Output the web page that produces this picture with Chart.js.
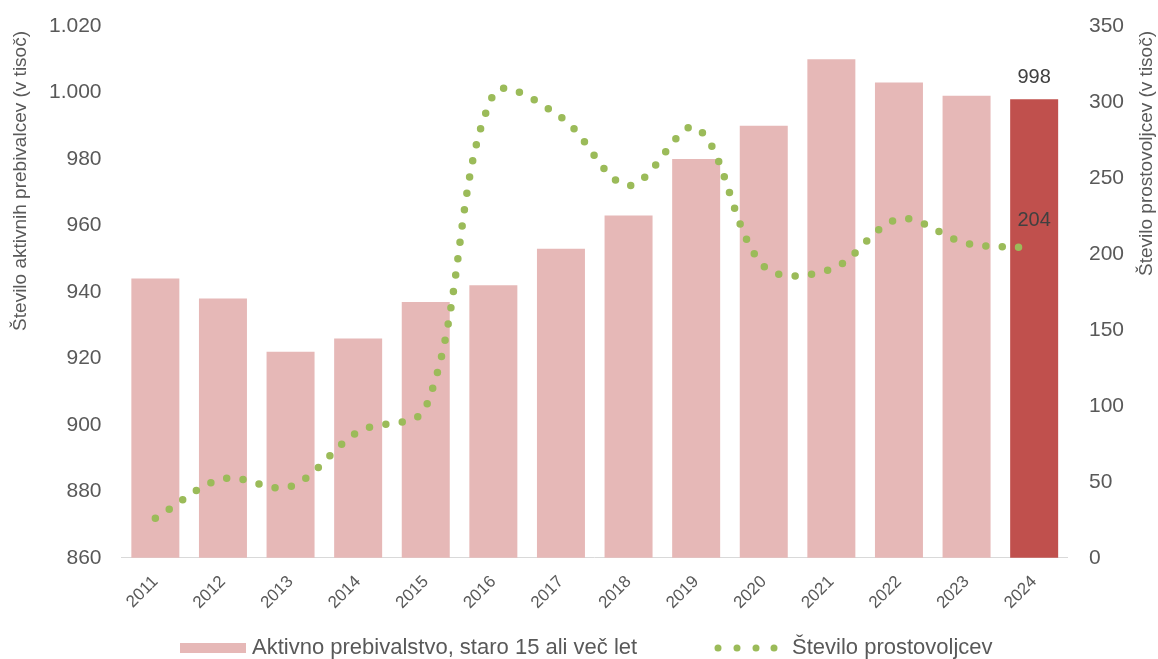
<!DOCTYPE html>
<html>
<head>
<meta charset="utf-8">
<script src="https://cdn.jsdelivr.net/npm/chart.js@4.4.1/dist/chart.umd.min.js"></script>
<style>
  html, body { margin: 0; padding: 0; background: #fff; }
  #wrap { width: 1158px; height: 659px; position: relative; }
</style>
</head>
<body>
<div id="wrap"><canvas id="chart"></canvas></div>
<script>
const years = ['2011', '2012', '2013', '2014', '2015', '2016', '2017', '2018', '2019', '2020', '2021', '2022', '2023', '2024'];
const activePop = [944, 938, 922, 926, 937, 942, 953, 963, 980, 990, 1010, 1003, 999, 998];
const volunteers = [26, 52, 47, 83, 99, 305, 290, 245, 283, 192, 190, 223, 207, 204];
const barLabel = 'Aktivno prebivalstvo, staro 15 ali več let';
const lineLabel = 'Število prostovoljcev';
const leftTitle = 'Število aktivnih prebivalcev (v tisoč)';
const rightTitle = 'Število prostovoljcev (v tisoč)';

const textColor = '#595959';
const pink = '#e6b8b7';
const darkRed = '#c0504d';
const green = '#9bbb59';
const font = 'Liberation Sans, Arial, sans-serif';

function fmt(v) {
  if (v >= 1000) return Math.floor(v / 1000) + '.' + String(v % 1000).padStart(3, '0');
  return String(v);
}

// value labels for the last bar and the last point
const valueLabels = {
  id: 'valueLabels',
  afterDatasetsDraw(chart) {
    const ctx = chart.ctx;
    ctx.save();
    ctx.font = '20px ' + font;
    ctx.fillStyle = '#404040';
    ctx.textAlign = 'center';
    ctx.textBaseline = 'middle';
    const last = years.length - 1;
    const bar = chart.getDatasetMeta(0).data[last];
    ctx.fillText(String(activePop[last]), bar.x, bar.y - 22);
    const pt = chart.getDatasetMeta(1).data[last];
    ctx.fillText(String(volunteers[last]), pt.x, pt.y - 27);
    ctx.restore();
  }
};

// axis titles (both read bottom to top) and legend at the bottom
const extras = {
  id: 'extras',
  afterDraw(chart) {
    const ctx = chart.ctx;
    const top = chart.chartArea.top + 5;
    [[leftTitle, 21], [rightTitle, 1147]].forEach(([text, x]) => {
      ctx.save();
      ctx.fillStyle = textColor;
      ctx.font = '19px ' + font;
      ctx.translate(x, top);
      ctx.rotate(-Math.PI / 2);
      ctx.textAlign = 'right';
      ctx.textBaseline = 'middle';
      ctx.fillText(text, 0, 0);
      ctx.restore();
    });

    const y = 648;
    ctx.save();
    ctx.fillStyle = pink;
    ctx.fillRect(180, y - 5, 66, 10);
    ctx.font = '22px ' + font;
    ctx.fillStyle = textColor;
    ctx.textBaseline = 'middle';
    ctx.fillText(barLabel, 252, y);
    ctx.fillStyle = green;
    [718, 737, 756, 774].forEach(x => {
      ctx.beginPath();
      ctx.arc(x, y, 3.5, 0, Math.PI * 2);
      ctx.fill();
    });
    ctx.fillStyle = textColor;
    ctx.fillText(lineLabel, 792, y);
    ctx.restore();
  }
};

new Chart(document.getElementById('chart'), {
  type: 'bar',
  data: {
    labels: years,
    datasets: [
      {
        label: barLabel,
        data: activePop,
        backgroundColor: years.map((_, i) => i === years.length - 1 ? darkRed : pink),
        barPercentage: 0.71,
        categoryPercentage: 1,
        yAxisID: 'y',
        order: 2
      },
      {
        type: 'line',
        label: lineLabel,
        data: volunteers,
        borderColor: green,
        borderWidth: 7.5,
        borderDash: [0, 16.5],
        borderCapStyle: 'round',
        tension: 0.35,
        pointRadius: 0,
        fill: false,
        yAxisID: 'y1',
        order: 1
      }
    ]
  },
  options: {
    responsive: true,
    maintainAspectRatio: false,
    animation: false,
    layout: { padding: { top: 26, bottom: 32, left: 49, right: 34 } },
    plugins: {
      legend: { display: false },
      title: { display: false },
      tooltip: { enabled: false }
    },
    scales: {
      x: {
        grid: { display: false, drawTicks: false },
        border: { display: true, color: '#d9d9d9', width: 1 },
        ticks: {
          color: textColor,
          font: { family: font, size: 17 },
          minRotation: 45,
          maxRotation: 45,
          padding: 14
        }
      },
      y: {
        position: 'left',
        min: 860,
        max: 1020,
        grid: { display: false, drawTicks: true, tickLength: 20 },
        border: { display: false },
        ticks: {
          stepSize: 20,
          color: textColor,
          font: { family: font, size: 21 },
          padding: 0,
          callback: v => fmt(v)
        }
      },
      y1: {
        position: 'right',
        min: 0,
        max: 350,
        grid: { display: false, drawTicks: true, tickLength: 21 },
        border: { display: false },
        ticks: {
          stepSize: 50,
          color: textColor,
          font: { family: font, size: 21 },
          padding: 0
        }
      }
    }
  },
  plugins: [valueLabels, extras]
});
</script>
</body>
</html>
